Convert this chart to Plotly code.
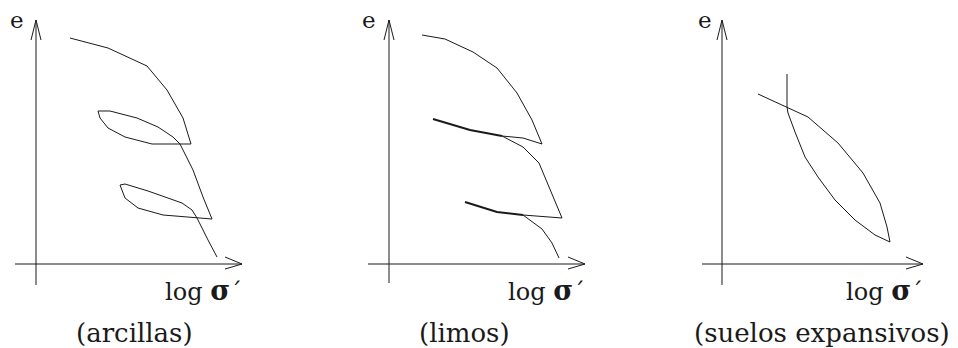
import plotly.graph_objects as go

W, H = 958, 348

# Axis origins of the three panels (pixel position of the e / log σ' crossing)
panel_origin_px = [(36, 264), (389, 264), (722, 264)]
# Axis extents in local units: (x_min, x_max, y_min, y_max)
panel_extent = [(-21, 206, -21, 244), (-21, 196, -19, 244), (-20, 201, -21, 244)]
panel_titles = ["(arcillas)", "(limos)", "(suelos expansivos)"]
caption_x_px = [134, 464, 822]
e_label_px = [(17, 20), (369, 20), (705, 20)]

# --- arcillas: virgin branch with two unload/reload loops (log σ', e)
arc_x = [34, 72, 111, 131, 147, 155,
         116, 89, 72, 64, 62,
         74, 101, 122, 137, 144, 157, 167, 176,
         161, 127, 102, 89, 84,
         89, 112, 146, 156, 161, 172, 181]
arc_e = [226, 216, 198, 174, 146, 120,
         120, 127, 136, 146, 153,
         153, 146, 137, 127, 120, 94, 67, 45,
         46, 49, 56, 66, 79,
         80, 73, 61, 54, 46, 24, 7]

# --- limos: virgin branch, thin unloading ends, reload branches
lim_x = [33, 56, 84, 108, 128, 143, 153,
         134, 113,
         134, 150, 161, 173,
         134,
         153, 163, 170]
lim_e = [229, 225, 212, 196, 171, 144, 120,
         126, 128,
         117, 101, 74, 46,
         49,
         35, 21, 6]
# thicker unloading segments
lim_u1_x = [113, 81, 44]
lim_u1_e = [128, 134, 145]
lim_u2_x = [134, 108, 76]
lim_u2_e = [49, 52, 62]

# --- suelos expansivos: loading curve and swelling return
exp_x = [36, 65, 86, 116, 141, 158, 165, 168,
         153, 133, 113, 96, 83, 73, 66, 65, 65]
exp_e = [170, 157, 147, 121, 91, 61, 37, 22,
         29, 44, 64, 87, 107, 132, 151, 157, 190]

INK = "#1a1a1a"
SERIF = "DejaVu Serif"
LOG_LABEL = "log <span style='font-size:27px'><b>σ</b></span>´"


def px(x):
    return x / W


def py(y):
    return (H - y) / H


fig = go.Figure()
layout = dict(width=W, height=H, margin=dict(l=0, r=0, t=0, b=0),
              paper_bgcolor="white", plot_bgcolor="white", showlegend=False)

annotations = []
for i, ((ox, oy), (x0, x1, y0, y1)) in enumerate(zip(panel_origin_px, panel_extent)):
    sfx = "" if i == 0 else str(i + 1)
    xa, ya = "x" + sfx, "y" + sfx
    layout["xaxis" + sfx] = dict(domain=[px(ox + x0), px(ox + x1)], range=[x0, x1],
                                 visible=False, fixedrange=True)
    layout["yaxis" + sfx] = dict(domain=[py(oy - y0), py(oy - y1)],
                                 range=[y0, y1], visible=False, fixedrange=True)
    # axis lines with open arrow heads
    ax_line = dict(color=INK, width=1)
    fig.add_trace(go.Scatter(x=[x0, x1, None, x1 - 17, x1, x1 - 17],
                             y=[0, 0, None, 7, 0, -5], mode="lines", line=ax_line,
                             xaxis=xa, yaxis=ya, hoverinfo="skip"))
    fig.add_trace(go.Scatter(x=[0, 0, None, -5, 0, 5],
                             y=[y0, y1, None, y1 - 20, y1, y1 - 20], mode="lines",
                             line=ax_line, xaxis=xa, yaxis=ya, hoverinfo="skip"))
    ex, ey = e_label_px[i]
    annotations.append(dict(text="e", x=px(ex), y=py(ey), xref="paper", yref="paper",
                            showarrow=False, xanchor="center", yanchor="middle",
                            font=dict(family=SERIF, size=23, color=INK)))
    annotations.append(dict(text=LOG_LABEL, x=px(ox + x1 + 2), y=py(290),
                            xref="paper", yref="paper", showarrow=False,
                            xanchor="right", yanchor="middle",
                            font=dict(family=SERIF, size=24, color=INK)))
    annotations.append(dict(text=panel_titles[i], x=px(caption_x_px[i]), y=py(333),
                            xref="paper", yref="paper", showarrow=False,
                            xanchor="center", yanchor="middle",
                            font=dict(family=SERIF, size=26, color=INK)))

curve = dict(color=INK, width=1)
fig.add_trace(go.Scatter(x=arc_x, y=arc_e, mode="lines", line=curve, xaxis="x", yaxis="y"))
fig.add_trace(go.Scatter(x=lim_x, y=lim_e, mode="lines", line=curve, xaxis="x2", yaxis="y2"))
fig.add_trace(go.Scatter(x=lim_u1_x, y=lim_u1_e, mode="lines", line=dict(color=INK, width=2),
                         xaxis="x2", yaxis="y2"))
fig.add_trace(go.Scatter(x=lim_u2_x, y=lim_u2_e, mode="lines", line=dict(color=INK, width=2),
                         xaxis="x2", yaxis="y2"))
fig.add_trace(go.Scatter(x=exp_x, y=exp_e, mode="lines", line=curve, xaxis="x3", yaxis="y3"))

layout["annotations"] = annotations
fig.update_layout(**layout)
fig.write_html("out.html")
